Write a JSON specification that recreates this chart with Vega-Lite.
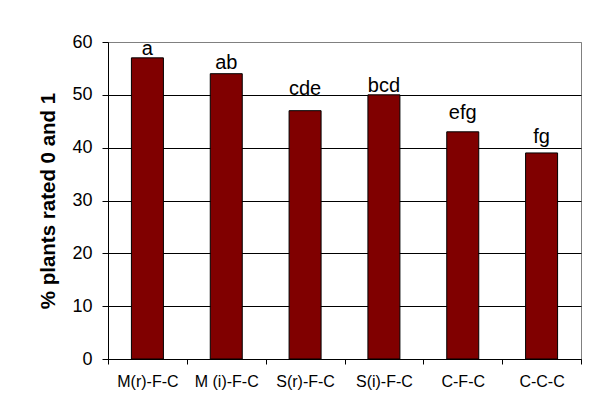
{
  "$schema": "https://vega.github.io/schema/vega-lite/v6.json",
  "autosize": "none",
  "width": 473,
  "height": 317,
  "padding": {"left": 108, "top": 42, "right": 9, "bottom": 50},
  "background": "white",
  "config": {
    "font": "Liberation Sans",
    "view": {"stroke": "#808080", "strokeWidth": 1}
  },
  "data": {
    "values": [
      {"treatment": "M(r)-F-C", "pct": 57, "letters": "a", "labelPos": 57.5},
      {"treatment": "M (i)-F-C", "pct": 54, "letters": "ab", "labelPos": 54.9},
      {"treatment": "S(r)-F-C", "pct": 47, "letters": "cde", "labelPos": 50.0},
      {"treatment": "S(i)-F-C", "pct": 50, "letters": "bcd", "labelPos": 50.6},
      {"treatment": "C-F-C", "pct": 43, "letters": "efg", "labelPos": 45.4},
      {"treatment": "C-C-C", "pct": 39, "letters": "fg", "labelPos": 40.9}
    ]
  },
  "encoding": {
    "x": {
      "field": "treatment",
      "type": "nominal",
      "sort": null,
      "scale": {"paddingInner": 0, "paddingOuter": 0},
      "axis": {
        "title": null,
        "labelAngle": 0,
        "labelFontSize": 16,
        "labelColor": "black",
        "labelPadding": 9,
        "domainColor": "black",
        "tickColor": "black",
        "tickSize": 5,
        "tickBand": "extent",
        "grid": false
      }
    }
  },
  "layer": [
    {
      "mark": {"type": "bar", "width": 32, "fill": "#800000", "stroke": "black", "strokeWidth": 1},
      "encoding": {
        "y": {
          "field": "pct",
          "type": "quantitative",
          "scale": {"domain": [0, 60], "nice": false},
          "axis": {
            "title": "% plants rated 0 and 1",
            "titleFontSize": 20.5,
            "titleFontWeight": "bold",
            "titleColor": "black",
            "titlePadding": 13,
            "values": [0, 10, 20, 30, 40, 50, 60],
            "labelFontSize": 18,
            "labelColor": "black",
            "labelPadding": 10,
            "domainColor": "black",
            "tickColor": "black",
            "tickSize": 6,
            "grid": true,
            "gridColor": {"condition": {"test": "datum.value == 60", "value": "#808080"}, "value": "black"},
            "gridOpacity": 1
          }
        }
      }
    },
    {
      "mark": {"type": "text", "baseline": "alphabetic", "align": "center", "fontSize": 20, "color": "black"},
      "encoding": {
        "y": {"field": "labelPos", "type": "quantitative"},
        "text": {"field": "letters"}
      }
    }
  ]
}
